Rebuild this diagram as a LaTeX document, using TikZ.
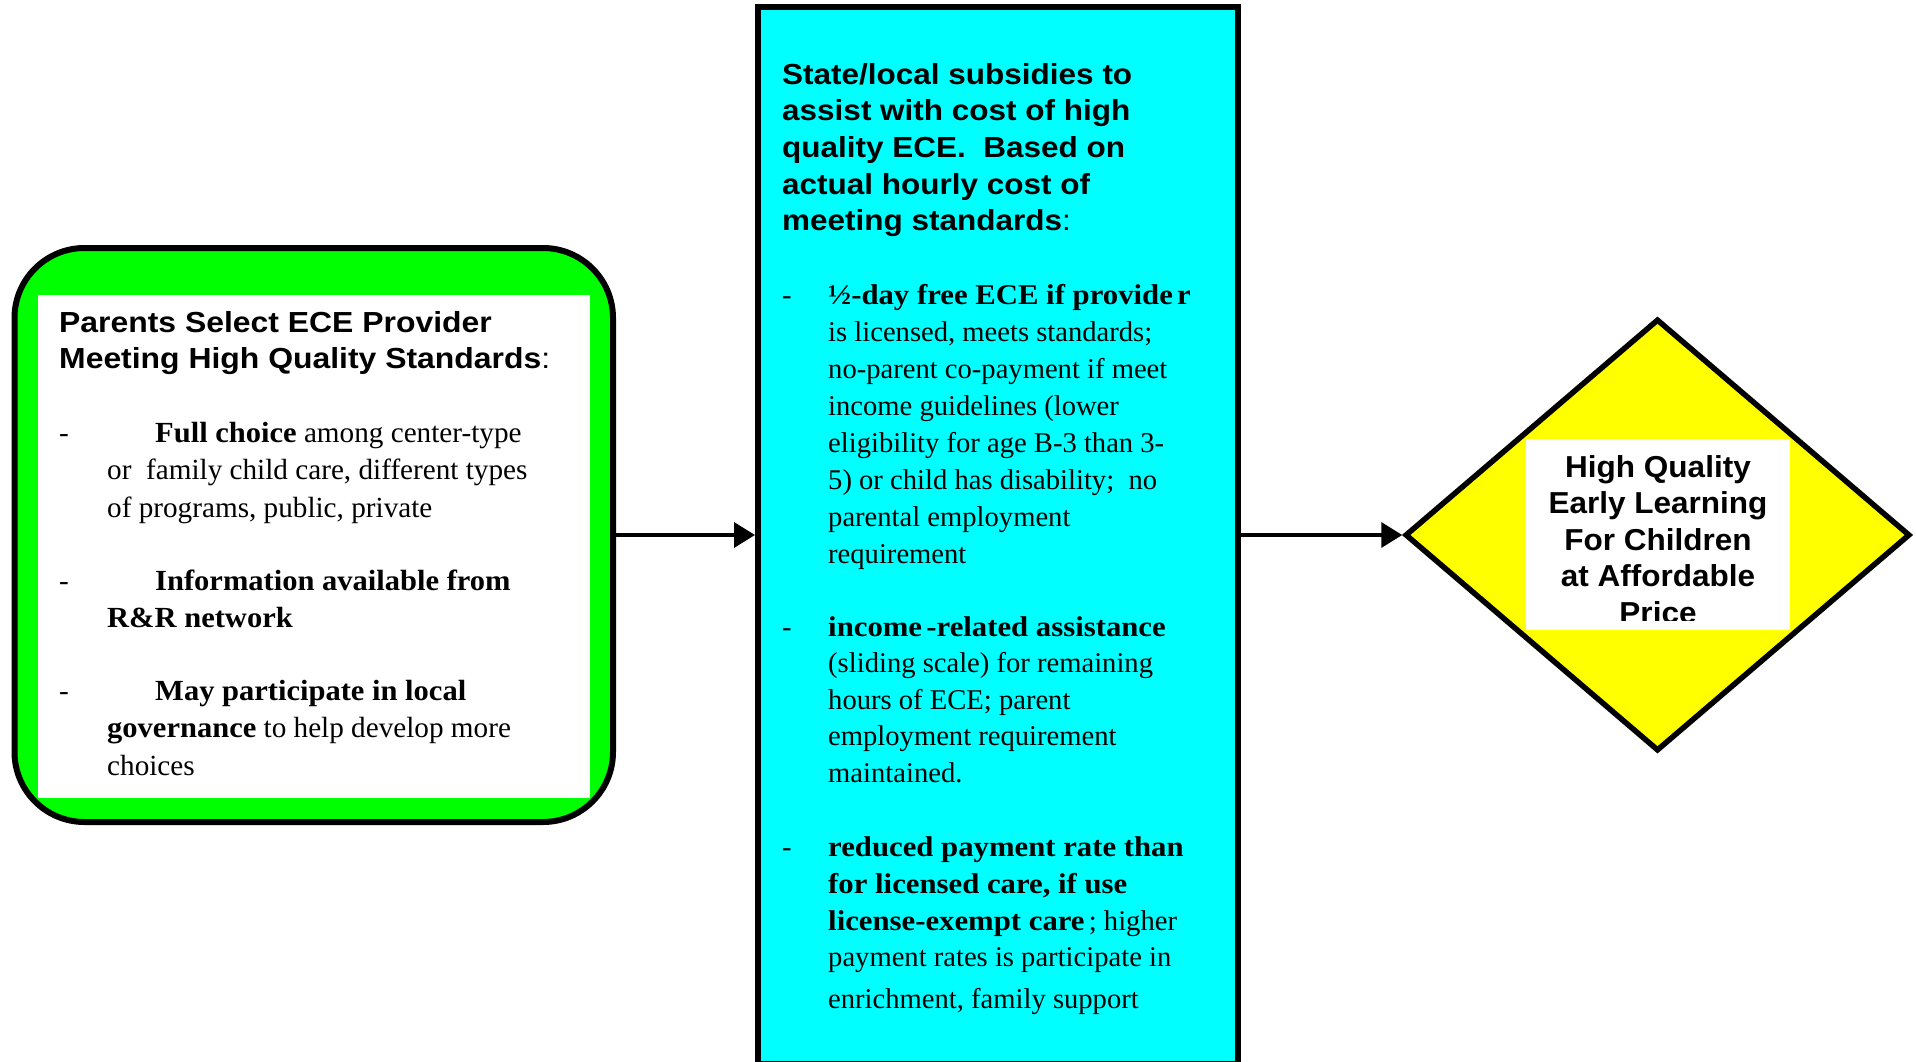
\documentclass[tikz,border=0pt]{standalone}
\usepackage{fontspec}
\setmainfont{Liberation Serif}[BoldFeatures={FakeStretch=1.075}]
% heading and body faces, each widened to the set width of its block
\newfontfamily\headA{Liberation Sans}[FakeStretch=1.1]
\newfontfamily\headB{Liberation Sans}[FakeStretch=1.086]
\newfontfamily\diafont{Liberation Sans}[FakeStretch=1.04]
\newfontfamily\bodyA{Liberation Serif}[BoldFeatures={FakeStretch=1.045}]
\usetikzlibrary{arrows.meta,shapes.geometric}
\definecolor{boxgreen}{RGB}{0,255,0}
\definecolor{boxcyan}{RGB}{0,255,255}
\definecolor{boxyellow}{RGB}{255,255,0}
\begin{document}
\begin{tikzpicture}[x=1pt,y=-1pt,
  txt/.style={inner sep=0pt, anchor=base west, text=black},
  ctxt/.style={inner sep=0pt, anchor=base, text=black},
  ghead/.style={txt, font=\headA\bfseries\fontsize{29}{30}\selectfont},
  chead/.style={txt, font=\headB\bfseries\fontsize{29}{30}\selectfont},
  gbody/.style={txt, font=\bodyA\fontsize{29.2}{30}\selectfont},
  cbody/.style={txt, font=\fontsize{28.6}{30}\selectfont},
  dtext/.style={ctxt, font=\diafont\bfseries\fontsize{30.3}{30}\selectfont},
  panel/.style={fill=white, inner sep=0pt},
  arr/.style={line width=3.5pt, -{Triangle[length=21pt,width=25pt]}}]

\fill[white] (0,0) rectangle (1916,1062);
\useasboundingbox (0,0) rectangle (1916,1062);

% ---- parents' choice box ----
\node[draw, line width=6pt, fill=boxgreen, rounded corners=70pt, inner sep=0pt,
      minimum width=598.5pt, minimum height=574pt] (green) at (313.75,535) {};
\node[panel, minimum width=552pt, minimum height=503pt] (gpanel) at (314,546.5) {};

\node[ghead] (gt1) at (59,332) {Parents Select ECE Provider};
\node[ghead] (gt2) at (59,368) {Meeting High Quality Standards\mdseries:};

\node[gbody] (gd1) at (59,442) {-};
\node[gbody] (g11) at (155,442) {\textbf{Full choice} among center-type};
\node[gbody] (g12) at (107,479.5) {or\ \ family child care, different types};
\node[gbody] (g13) at (107,517) {of programs, public, private};

\node[gbody] (gd2) at (59,590) {-};
\node[gbody] (g21) at (155,590) {\textbf{Information available from}};
\node[gbody] (g22) at (107,627.5) {\textbf{R\&R network}};

\node[gbody] (gd3) at (59,700) {-};
\node[gbody] (g31) at (155,700) {\textbf{May participate in local}};
\node[gbody] (g32) at (107,737.5) {\textbf{governance} to help develop more};
\node[gbody] (g33) at (107,775) {choices};

% ---- subsidies box ----
\node[draw, line width=6pt, fill=boxcyan, inner sep=0pt,
      minimum width=479.5pt, minimum height=1057pt] (cyan) at (997.75,535.5) {};

\node[chead] (ct1) at (782,84.3) {State/local subsidies to};
\node[chead] (ct2) at (782,121) {assist with cost of high};
\node[chead] (ct3) at (782,157.5) {quality ECE.\ \ Based on};
\node[chead] (ct4) at (782,194) {actual hourly cost of};
\node[chead] (ct5) at (782,230) {meeting standards\mdseries:};

\node[cbody] (cd1) at (782,304.3) {-};
\node[cbody] (c11) at (828,304.3) {\textbf{½-day free ECE if provide\kern0.15em r}};
\node[cbody] (c12) at (828,341.5) {is licensed, meets standards;};
\node[cbody] (c13) at (828,378.5) {no-parent co-payment if meet};
\node[cbody] (c14) at (828,415.5) {income guidelines (lower};
\node[cbody] (c15) at (828,452) {eligibility for age B-3 than 3-};
\node[cbody] (c16) at (828,489) {5) or child has disability;\ \ no};
\node[cbody] (c17) at (828,526) {parental employment};
\node[cbody] (c18) at (828,563) {requirement};

\node[cbody] (cd2) at (782,636) {-};
\node[cbody] (c21) at (828,636) {\textbf{income\kern0.15em-related assistance}};
\node[cbody] (c22) at (828,672.5) {(sliding scale) for remaining};
\node[cbody] (c23) at (828,709) {hours of ECE; parent};
\node[cbody] (c24) at (828,745.5) {employment requirement};
\node[cbody] (c25) at (828,782) {maintained.};

\node[cbody] (cd3) at (782,856.5) {-};
\node[cbody] (c31) at (828,856.5) {\textbf{reduced payment rate than}};
\node[cbody] (c32) at (828,893.3) {\textbf{for licensed care, if use}};
\node[cbody] (c33) at (828,930) {\textbf{license-exempt care}\kern0.15em; higher};
\node[cbody] (c34) at (828,966.7) {payment rates is participate in};
\node[cbody] (c35) at (828,1008.3) {enrichment, family support};

% ---- outcome diamond ----
\node[diamond, draw, line width=5.5pt, fill=boxyellow, inner sep=0pt,
      minimum width=505pt, minimum height=432pt] (dia) at (1657.5,535) {};
\node[panel, minimum width=264pt, minimum height=191pt] (dpanel) at (1658,534.5) {};
\begin{scope}
  \clip (1526,439) rectangle (1790,620);
  \node[dtext] (d1) at (1658,477.5) {High Quality};
  \node[dtext] (d2) at (1658,513.5) {Early Learning};
  \node[dtext] (d3) at (1658,550) {For Children};
  \node[dtext] (d4) at (1658,586.5) {at Affordable};
  \node[dtext] (d5) at (1658,623) {Price};
\end{scope}

% ---- connectors ----
\draw[arr] (green.east) -- (green.east -| cyan.west);
\draw[arr] (cyan.east |- dia.west) -- (dia.west);
\end{tikzpicture}
\end{document}
